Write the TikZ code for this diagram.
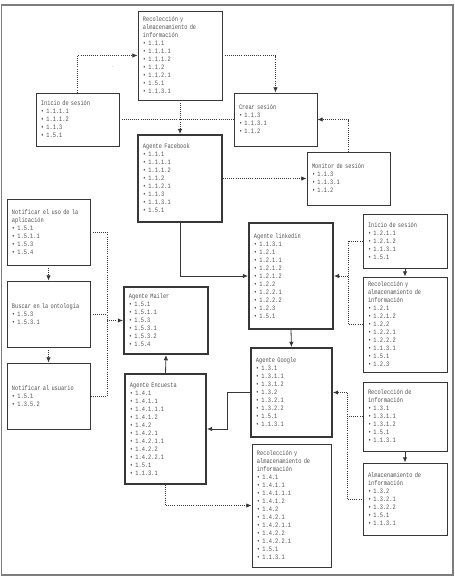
\documentclass[tikz,border=0pt]{standalone}
\usepackage{fontspec}
\usepackage{tikz}
\usetikzlibrary{arrows.meta,positioning}
\newfontfamily\cajafont[FakeStretch=0.78]{Liberation Mono}
\definecolor{linea}{RGB}{55,55,55}
\definecolor{texto}{RGB}{80,80,80}
\definecolor{marco}{RGB}{125,125,125}
\tikzstyle{caja} = [draw=linea, line width=0.8pt, inner xsep=0.15cm, inner ysep=0pt, align=left, text=texto, font=\cajafont\fontsize{5.8}{6.83}\selectfont]
\tikzstyle{agente} = [caja, line width=1.6pt]
\tikzstyle{flecha} = [->, >={Latex[length=4.5pt,width=3.8pt]}, color=linea, line width=0.7pt]
\tikzstyle{punteada} = [flecha, dash pattern=on 0.7pt off 1.1pt]
\tikzstyle{enlace} = [punteada, -]

\begin{document}
\begin{tikzpicture}[x=0.03cm, y=-0.03cm]
\useasboundingbox (0,0) rectangle (455,577);
% Marco
\draw[marco, line width=1.2pt] (1.5,5) rectangle (453,575);

% Facebook
\node[caja, text width=2.22cm, minimum height=2.67cm] (rec1) at (180,55.5) {Recolección y\\almacenamiento de\\información\\• 1.1.1\\• 1.1.1.1\\• 1.1.1.2\\• 1.1.2\\• 1.1.2.1\\• 1.5.1\\• 1.1.3.1};
\node[caja, text width=2.19cm, minimum height=1.59cm] (inicio1) at (77.5,119.5) {Inicio de sesión\\• 1.1.1.1\\• 1.1.1.2\\• 1.1.3\\• 1.5.1};
\node[caja, text width=2.19cm, minimum height=1.59cm] (crear) at (275.5,119.5) {Crear sesión\\• 1.1.3\\• 1.1.3.1\\• 1.1.2};
\node[agente, text width=2.22cm, minimum height=2.61cm] (facebook) at (180,178.5) {Agente Facebook\\• 1.1.1\\• 1.1.1.1\\• 1.1.1.2\\• 1.1.2\\• 1.1.2.1\\• 1.1.3\\• 1.1.3.1\\• 1.5.1};
\node[caja, text width=2.19cm, minimum height=1.59cm] (monitor) at (348.5,178.5) {Monitor de sesión\\• 1.1.3\\• 1.1.3.1\\• 1.1.2};
\node[text=texto, font=\tiny] (punto) at (113,67) {.};

% Mailer
\node[caja, text width=2.19cm, minimum height=1.98cm] (notiuso) at (48.5,232) {Notificar el uso de la\\aplicación\\• 1.5.1\\• 1.5.1.1\\• 1.5.3\\• 1.5.4};
\node[caja, text width=2.19cm, minimum height=1.98cm] (buscar) at (48.5,314) {Buscar en la ontología\\• 1.5.3\\• 1.5.3.1};
\node[caja, text width=2.19cm, minimum height=1.98cm] (notiusu) at (48.5,396) {Notificar al usuario\\• 1.5.1\\• 1.3.5.2};
\node[agente, text width=2.22cm, minimum height=2.01cm] (mailer) at (166,320.5) {Agente Mailer\\• 1.5.1\\• 1.5.1.1\\• 1.5.3\\• 1.5.3.1\\• 1.5.3.2\\• 1.5.4};

% Encuesta
\node[agente, text width=2.13cm, minimum height=3.3cm] (encuesta) at (165.5,429) {Agente Encuesta\\• 1.4.1\\• 1.4.1.1\\• 1.4.1.1.1\\• 1.4.1.2\\• 1.4.2\\• 1.4.2.1\\• 1.4.2.1.1\\• 1.4.2.2\\• 1.4.2.2.1\\• 1.5.1\\• 1.1.3.1};
\node[caja, text width=2.07cm, minimum height=3.69cm] (rec3) at (291.5,505.5) {Recolección y\\almacenamiento de\\información\\• 1.4.1\\• 1.4.1.1\\• 1.4.1.1.1\\• 1.4.1.2\\• 1.4.2\\• 1.4.2.1\\• 1.4.2.1.1\\• 1.4.2.2\\• 1.4.2.2.1\\• 1.5.1\\• 1.1.3.1};

% Linkedin
\node[agente, text width=2.22cm, minimum height=3.18cm] (linkedin) at (291,276) {Agente linkedin\\• 1.1.3.1\\• 1.2.1\\• 1.2.1.1\\• 1.2.1.2\\• 1.2.1.2\\• 1.2.2\\• 1.2.2.1\\• 1.2.2.2\\• 1.2.3\\• 1.5.1};
\node[caja, text width=2.22cm, minimum height=1.62cm] (inicio2) at (405,241) {Inicio de sesión\\• 1.2.1.1\\• 1.2.1.2\\• 1.1.3.1\\• 1.5.1};
\node[caja, text width=2.22cm, minimum height=2.85cm] (rec2) at (405,324.5) {Recolección y\\almacenamiento de\\información\\• 1.2.1\\• 1.2.1.2\\• 1.2.2\\• 1.2.2.1\\• 1.2.2.2\\• 1.1.3.1\\• 1.5.1\\• 1.2.3};

% Google
\node[agente, text width=2.13cm, minimum height=2.67cm] (google) at (291.5,392.5) {Agente Google\\• 1.3.1\\• 1.3.1.1\\• 1.3.1.2\\• 1.3.2\\• 1.3.2.1\\• 1.3.2.2\\• 1.5.1\\• 1.1.3.1};
\node[caja, text width=2.22cm, minimum height=2.07cm] (recinfo) at (405,416.5) {Recolección de\\información\\• 1.3.1\\• 1.3.1.1\\• 1.3.1.2\\• 1.5.1\\• 1.1.3.1};
\node[caja, text width=2.22cm, minimum height=2.16cm] (almac) at (405,499) {Almacenamiento de\\información\\• 1.3.2\\• 1.3.2.1\\• 1.3.2.2\\• 1.5.1\\• 1.1.3.1};

% Uniones
\coordinate (juntaM) at (107,320.5);
\coordinate (juntaL) at (348,276);
\coordinate (juntaG) at (347,392.5);

% Conectores punteados
\draw[punteada] (inicio1.north) |- (rec1.west);
\draw[punteada] (rec1.east) -| (crear.north);
\draw[punteada] (rec1.south) -- (facebook.north);
\draw[enlace] (inicio1.east) -- (crear.west);
\draw[punteada] (monitor.north) |- (crear.east);
\draw[punteada] (facebook.east) -- (monitor.west);
\draw[punteada] (notiuso.south) -- (buscar.north);
\draw[punteada] (buscar.south) -- (notiusu.north);
\draw[enlace] (notiuso.east) -| (juntaM |- notiusu.east) -- (notiusu.east);
\draw[enlace] (buscar.east) -- (juntaM |- buscar.east);
\draw[punteada] (juntaM) -- (mailer.west);
\draw[punteada] (encuesta.south) |- (rec3.west);
\draw[enlace] (inicio2.west) -| (juntaL |- rec2.west) -- (rec2.west);
\draw[punteada] (juntaL) -- (linkedin.east);
\draw[enlace] (recinfo.west) -- (juntaG |- recinfo.west);
\draw[enlace] (juntaG) |- (almac.west);
\draw[punteada] (juntaG) -- (google.east);

% Conectores continuos
\draw[flecha] (facebook.south) |- (linkedin.west);
\draw[flecha] (linkedin.south) -- (google.north);
\draw[flecha] (google.west) -- ++(-23,0) |- (encuesta.east);
\draw[flecha] (encuesta.north) -- (mailer.south);
\draw[flecha] (inicio2.south) -- (rec2.north);
\draw[flecha] (recinfo.south) -- (almac.north);
\end{tikzpicture}
\end{document}
